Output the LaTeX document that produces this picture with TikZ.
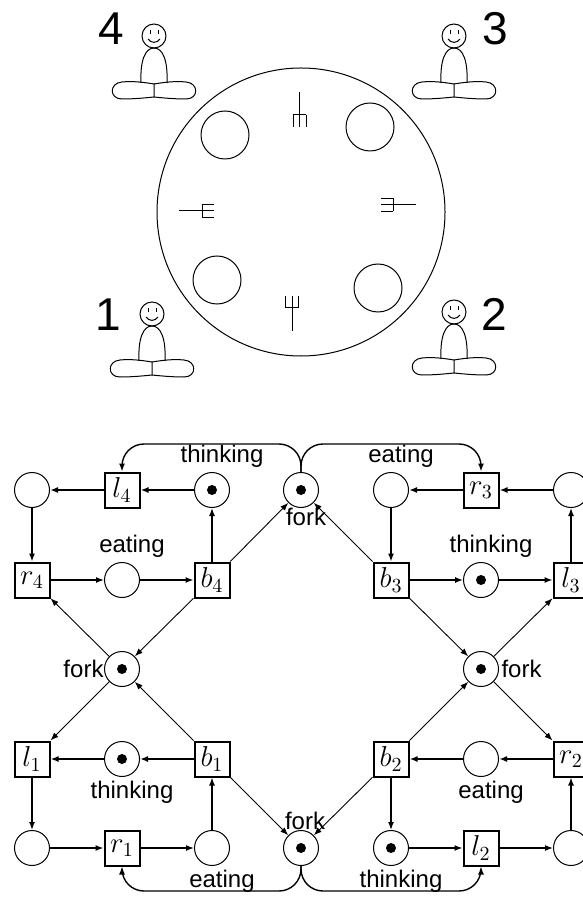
\documentclass[tikz,border=0pt]{standalone}
\usepackage[no-math]{fontspec}
\setmainfont{Liberation Sans}
\usetikzlibrary{arrows.meta, positioning, calc}

\tikzset{
  place/.style={circle, draw, line width=0.5pt, minimum size=17.5pt, inner sep=0pt},
  token/.style={place, path picture={\fill (path picture bounding box.center) circle (2.5pt);}},
  transition/.style={rectangle, draw, line width=1pt, minimum size=17.5pt, inner sep=0pt, font=\fontsize{14}{17}\selectfont},
  every label/.style={inner sep=2pt},
  cyclearc/.style={-{Latex[length=4pt,width=3pt]}, line width=0.7pt},
  heavyarc/.style={cyclearc, line width=1pt},
  forkarc/.style={-{Latex[length=4pt,width=3pt]}, line width=0.45pt},
  philosopher/.pic={
    \draw (0,0) circle (12);
    \draw (-4,2) -- (-4,6) (4,2) -- (4,6);
    \draw (-6,-3) .. controls (-3,-7.5) and (3,-7.5) .. (6,-3);
    \draw (-13,-47) .. controls (-14,-25) and (-9,-12) .. (0,-12) .. controls (9,-12) and (14,-25) .. (13,-47);
    \draw (0,-48) .. controls (-12,-46) and (-22,-45) .. (-32,-46) .. controls (-45,-47) and (-45,-63) .. (-32,-63)
      .. controls (-20,-63) and (-10,-62) .. (0,-61) -- cycle;
    \draw (0,-48) .. controls (12,-46) and (22,-45) .. (32,-46) .. controls (45,-47) and (45,-63) .. (32,-63)
      .. controls (20,-63) and (10,-62) .. (0,-61);
  },
  cutlery/.pic={
    \draw (-23,0) -- (12,0);
    \draw (0,-6.5) -- (0,6.5);
    \draw (0,-6.5) -- (12,-6.5) (0,6.5) -- (12,6.5);
  },
}

\begin{document}
\begin{tikzpicture}[x=0.5pt, y=0.5pt, line width=0.5pt, font=\fontsize{12}{14}\selectfont]
  \useasboundingbox (0,0) rectangle (582,-897);

  % table
  \draw (301,-212) circle (144);
  \foreach \px/\py in {225/135, 370/127, 217/280, 378/288}
    \draw (\px,-\py) circle (24);
  \pic[rotate=-90] at (299.5,-115) {cutlery};
  \pic at (202,-211) {cutlery};
  \pic[rotate=180] at (393,-205) {cutlery};
  \pic[rotate=90] at (292,-308) {cutlery};

  \pic at (154,-36) {philosopher};
  \pic at (454,-36) {philosopher};
  \pic at (152,-314) {philosopher};
  \pic at (454,-312) {philosopher};
  \node[font=\fontsize{23}{27}\selectfont] (n4) at (111,-29) {4};
  \node[font=\fontsize{23}{27}\selectfont] (n3) at (495,-29) {3};
  \node[font=\fontsize{23}{27}\selectfont] (n1) at (108,-315) {1};
  \node[font=\fontsize{23}{27}\selectfont] (n2) at (494,-314) {2};

  % petri net
  \node[place] (h4) at (32,-490) {};
  \node[transition] (l4) at (122,-490) {$l_4$};
  \node[token, label={[xshift=5pt]above:thinking}] (t4) at (212,-490) {};
  \node[token, label={[xshift=2.5pt, inner sep=0pt]below:fork}] (fT) at (301,-490) {};
  \node[place, label={[xshift=5pt]above:eating}] (e3) at (391,-490) {};
  \node[transition] (r3) at (481,-490) {$r_3$};
  \node[place] (h3) at (571,-490) {};

  \node[transition] (r4) at (32,-580) {$r_4$};
  \node[place, label={[xshift=5pt]above:eating}] (e4) at (122,-580) {};
  \node[transition] (b4) at (212,-580) {$b_4$};
  \node[transition] (b3) at (391,-580) {$b_3$};
  \node[token, label={[xshift=5pt]above:thinking}] (t3) at (481,-580) {};
  \node[transition] (l3) at (571,-580) {$l_3$};

  \node[token, label={[inner sep=0pt]left:fork}] (fL) at (122,-669) {};
  \node[token, label={[inner sep=1pt]right:fork}] (fR) at (481,-669) {};

  \node[transition] (l1) at (32,-759) {$l_1$};
  \node[token, label={[xshift=5pt]below:thinking}] (t1) at (122,-759) {};
  \node[transition] (b1) at (212,-759) {$b_1$};
  \node[transition] (b2) at (391,-759) {$b_2$};
  \node[place, label={[xshift=5pt]below:eating}] (e2) at (481,-759) {};
  \node[transition] (r2) at (571,-759) {$r_2$};

  \node[place] (h1) at (32,-848) {};
  \node[transition] (r1) at (122,-848) {$r_1$};
  \node[place, label={[xshift=5pt]below:eating}] (e1) at (212,-848) {};
  \node[token, label={[xshift=2pt, inner sep=0pt]above:fork}] (fB) at (301,-848) {};
  \node[token, label={[xshift=5pt]below:thinking}] (t2) at (391,-848) {};
  \node[transition] (l2) at (481,-848) {$l_2$};
  \node[place] (h2) at (571,-848) {};

  \draw[heavyarc] (t4) -- (l4);
  \draw[heavyarc] (l4) -- (h4);
  \draw[cyclearc] (h4) -- (r4);
  \draw[cyclearc] (r4) -- (e4);
  \draw[cyclearc] (e4) -- (b4);
  \draw[cyclearc] (b4) -- (t4);

  \draw[heavyarc] (h3) -- (r3);
  \draw[heavyarc] (r3) -- (e3);
  \draw[cyclearc] (e3) -- (b3);
  \draw[cyclearc] (b3) -- (t3);
  \draw[cyclearc] (t3) -- (l3);
  \draw[cyclearc] (l3) -- (h3);

  \draw[heavyarc] (b1) -- (t1);
  \draw[heavyarc] (t1) -- (l1);
  \draw[cyclearc] (l1) -- (h1);
  \draw[cyclearc] (h1) -- (r1);
  \draw[cyclearc] (r1) -- (e1);
  \draw[cyclearc] (e1) -- (b1);

  \draw[heavyarc] (r2) -- (e2);
  \draw[heavyarc] (e2) -- (b2);
  \draw[cyclearc] (b2) -- (t2);
  \draw[cyclearc] (t2) -- (l2);
  \draw[cyclearc] (l2) -- (h2);
  \draw[cyclearc] (h2) -- (r2);

  \draw[forkarc] (b4) -- (fT);
  \draw[forkarc] (b3) -- (fT);
  \draw[forkarc] (b4) -- (fL);
  \draw[forkarc] (b1) -- (fL);
  \draw[forkarc] (fL) -- (r4);
  \draw[forkarc] (fL) -- (l1);
  \draw[forkarc] (b1) -- (fB);
  \draw[forkarc] (b2) -- (fB);
  \draw[forkarc] (b2) -- (fR);
  \draw[forkarc] (b3) -- (fR);
  \draw[forkarc] (fR) -- (r2);
  \draw[forkarc] (fR) -- (l3);

  \draw[cyclearc, rounded corners=11pt] (fT.north) -- ++(0,14pt) -| (l4.north);
  \draw[cyclearc, rounded corners=11pt] (fT.north) -- ++(0,14pt) -| (r3.north);
  \draw[cyclearc, rounded corners=11pt] (fB.south) -- ++(0,-12.5pt) -| (r1.south);
  \draw[cyclearc, rounded corners=11pt] (fB.south) -- ++(0,-12.5pt) -| (l2.south);
\end{tikzpicture}
\end{document}
